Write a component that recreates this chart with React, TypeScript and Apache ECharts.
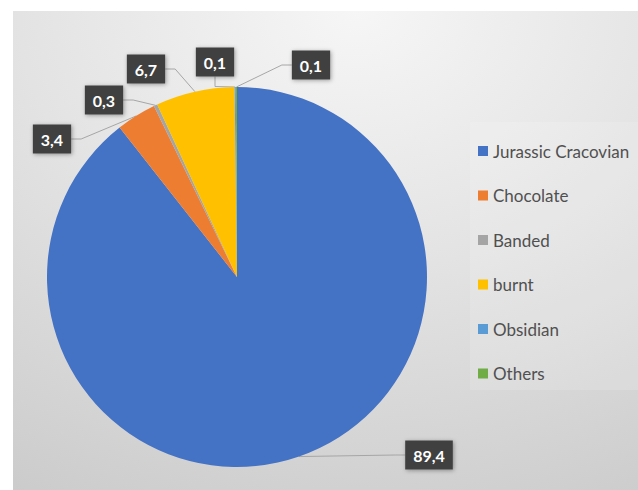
import React, { useEffect, useRef } from "react";
import * as echarts from "echarts";

const categories = ["Jurassic Cracovian", "Chocolate", "Banded", "burnt", "Obsidian", "Others"];
const values = [89.4, 3.4, 0.3, 6.7, 0.1, 0.1];
const colors = ["#4472C4", "#ED7D31", "#A5A5A5", "#FFC000", "#5B9BD5", "#70AD47"];
// label box centres (layout only)
const labelCenters = [
  [429, 455],
  [52, 139],
  [104, 100],
  [146, 69],
  [215, 62],
  [311, 65],
];

export default function App() {
  const ref = useRef<HTMLDivElement>(null);
  useEffect(() => {
    const chart = echarts.init(ref.current!, null, { renderer: "svg" });
    chart.setOption({
      animation: false,
      textStyle: { fontFamily: "Lato" },
      graphic: [
        {
          type: "rect",
          z: -10,
          silent: true,
          shape: { x: 13, y: 11, width: 625, height: 479 },
          style: {
            fill: new echarts.graphic.RadialGradient(0.55, 0.0, 1.2, [
              { offset: 0, color: "#f6f6f6" },
              { offset: 0.45, color: "#e3e3e3" },
              { offset: 1, color: "#c9c9c9" },
            ]),
          },
        },
        {
          type: "rect",
          z: -9,
          silent: true,
          shape: { x: 470, y: 122, width: 168, height: 268 },
          style: { fill: "rgba(255,255,255,0.14)" },
        },
      ],
      legend: {
        orient: "vertical",
        left: 473,
        top: 136,
        itemWidth: 10,
        itemHeight: 10,
        itemGap: 24.5,
        icon: "rect",
        data: categories,
        textStyle: { fontFamily: "Lato", fontSize: 17, color: "#505050", lineHeight: 20 },
      },
      series: [
        {
          type: "pie",
          center: [237, 277],
          radius: 190,
          startAngle: 90,
          clockwise: true,
          avoidLabelOverlap: false,
          data: categories.map((name, i) => ({
            name,
            value: values[i],
            itemStyle: { color: colors[i] },
          })),
          label: {
            show: true,
            position: "outside",
            formatter: (p: any) => String(p.value).replace(".", ","),
            color: "#ffffff",
            fontWeight: "bold",
            fontSize: 16,
            fontFamily: "Lato",
            backgroundColor: "#404040",
            padding: [6, 8, 6, 8],
            lineHeight: 17,
            shadowColor: "rgba(0,0,0,0.35)",
            shadowBlur: 4,
            shadowOffsetX: 1,
            shadowOffsetY: 1,
          },
          labelLine: {
            show: true,
            length: 10,
            length2: 10,
            lineStyle: { color: "#a6a6a6", width: 1 },
          },
          labelLayout: (params: any) => {
            const c = labelCenters[params.dataIndex];
            return { x: c[0], y: c[1], align: "center", verticalAlign: "middle" };
          },
        },
      ],
    });
    return () => chart.dispose();
  }, []);
  return (
    <div
      ref={ref}
      style={{ position: "fixed", left: 0, top: 0, width: 638, height: 490, background: "#ffffff" }}
    />
  );
}
